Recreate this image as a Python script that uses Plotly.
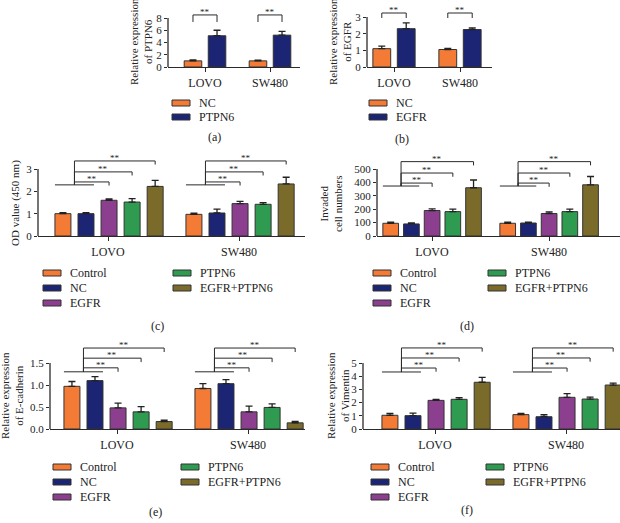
import plotly.graph_objects as go

W, H = 620, 523
FONT = "Liberation Serif"

groups = ["LOVO", "SW480"]

# colours
ORANGE = "#F47B36"
NAVY = "#1B2574"
PURPLE = "#8C3F8E"
GREEN = "#2E9B50"
OLIVE = "#7B6B2B"

# (a) PTPN6 expression
a_names = ["NC", "PTPN6"]
a_vals = [[1.0, 1.0], [5.1, 5.2]]
a_errs = [[0.15, 0.12], [0.9, 0.6]]

# (b) EGFR expression
b_names = ["NC", "EGFR"]
b_vals = [[1.1, 1.05], [2.3, 2.25]]
b_errs = [[0.15, 0.06], [0.35, 0.1]]

# five-group panels
names5 = ["Control", "NC", "EGFR", "PTPN6", "EGFR+PTPN6"]

# (c) OD value
c_vals = [[1.0, 0.97], [1.0, 1.03], [1.6, 1.45], [1.52, 1.42], [2.22, 2.33]]
c_errs = [[0.04, 0.05], [0.04, 0.17], [0.06, 0.1], [0.15, 0.07], [0.27, 0.3]]

# (d) invaded cell numbers
d_vals = [[95, 95], [90, 97], [190, 168], [182, 182], [360, 382]]
d_errs = [[8, 8], [8, 6], [12, 12], [18, 18], [58, 62]]

# (e) E-cadherin
e_vals = [[0.97, 0.92], [1.1, 1.03], [0.48, 0.39], [0.39, 0.49], [0.17, 0.14]]
e_errs = [[0.11, 0.11], [0.09, 0.09], [0.11, 0.13], [0.12, 0.08], [0.03, 0.03]]

# (f) Vimentin
f_vals = [[1.04, 1.09], [1.01, 0.93], [2.17, 2.4], [2.25, 2.27], [3.54, 3.33]]
f_errs = [[0.15, 0.1], [0.2, 0.15], [0.08, 0.28], [0.13, 0.15], [0.37, 0.15]]


def px(x):
    return x / W


def py(y):
    return 1 - y / H


panels = [
    dict(label="(a)", lab_xy=(214, 137), names=a_names, vals=a_vals, errs=a_errs,
         colors=[ORANGE, NAVY], width=0.27, offsets=[-0.32, 0.05],
         xl=168, xr=300, cat0=205, step=65, y0=67, ytick=18, ytop=5, amax=8,
         tickvals=[0, 2, 4, 6, 8], tickformat="d",
         title="Relative expression<br>of PTPN6", title_xy=(141, 42),
         pair=dict(level=8.5, tick=1.15),
         legend=[[(172, 103), (172, 117)]]),
    dict(label="(b)", lab_xy=(402, 139), names=b_names, vals=b_vals, errs=b_errs,
         colors=[ORANGE, NAVY], width=0.27, offsets=[-0.32, 0.05],
         xl=367, xr=492, cat0=394, step=66, y0=67, ytick=17, ytop=5, amax=3,
         tickvals=[0, 1, 2, 3], tickformat="d",
         title="Relative expression<br>of EGFR", title_xy=(340, 42),
         pair=dict(level=3.24, tick=0.3),
         legend=[[(369, 103), (369, 117)]]),
    dict(label="(c)", lab_xy=(157, 326), names=names5, vals=c_vals, errs=c_errs,
         colors=[ORANGE, NAVY, PURPLE, GREEN, OLIVE], width=0.122,
         offsets=[-0.405, -0.229, -0.053, 0.123, 0.299],
         xl=38, xr=305, cat0=108, step=131, y0=236, ytick=169, ytop=155, amax=3,
         tickvals=[0, 1, 2, 3], tickformat="d",
         title="OD value (450 nm)", title_xy=(15, 203),
         multi=dict(low=2.29, levels=[2.42, 2.87, 3.36], tick=0.16),
         legend=[[(43, 273), (43, 288), (43, 303)], [(173, 273), (173, 288)]]),
    dict(label="(d)", lab_xy=(467, 326), names=names5, vals=d_vals, errs=d_errs,
         colors=[ORANGE, NAVY, PURPLE, GREEN, OLIVE], width=0.134,
         offsets=[-0.42, -0.243, -0.066, 0.111, 0.288],
         xl=377, xr=620, cat0=432, step=117, y0=236, ytick=169, ytop=155, amax=500,
         tickvals=[0, 100, 200, 300, 400, 500], tickformat="d",
         title="Invaded<br>cell numbers", title_xy=(331, 203),
         multi=dict(low=373, levels=[395, 470, 555], tick=28),
         legend=[[(373, 273), (373, 288), (373, 303)], [(488, 273), (488, 288)]]),
    dict(label="(e)", lab_xy=(155, 512), names=names5, vals=e_vals, errs=e_errs,
         colors=[ORANGE, NAVY, PURPLE, GREEN, OLIVE], width=0.122,
         offsets=[-0.405, -0.229, -0.053, 0.123, 0.299],
         xl=50, xr=305, cat0=117, step=131, y0=429, ytick=363, ytop=342, amax=1.5,
         tickvals=[0, 0.5, 1.0, 1.5], tickformat=".1f",
         title="Relative expression<br>of E-cadherin", title_xy=(12, 396),
         multi=dict(low=1.30, levels=[1.39, 1.61, 1.84], tick=0.09),
         legend=[[(53, 467), (53, 482), (53, 497)], [(181, 467), (181, 482)]]),
    dict(label="(f)", lab_xy=(467, 510), names=names5, vals=f_vals, errs=f_errs,
         colors=[ORANGE, NAVY, PURPLE, GREEN, OLIVE], width=0.122,
         offsets=[-0.405, -0.229, -0.053, 0.123, 0.299],
         xl=363, xr=620, cat0=435, step=131, y0=429, ytick=363, ytop=342, amax=5,
         tickvals=[0, 1, 2, 3, 4, 5], tickformat="d",
         title="Relative expression<br>of Vimentin", title_xy=(338, 396),
         multi=dict(low=4.32, levels=[4.62, 5.38, 6.14], tick=0.28),
         legend=[[(371, 467), (371, 482), (371, 497)], [(486, 467), (486, 482)]]),
]

fig = go.Figure()
shapes = []
annotations = []
LINE = "#2a2a2a"


def star(xref, yref, x, y):
    annotations.append(dict(xref=xref, yref=yref, x=x, y=y, text="**", showarrow=False,
                            xanchor="center", yanchor="middle", yshift=3,
                            font=dict(family=FONT, size=9, color="#222")))


def seg(xref, yref, x0, y0, x1, y1):
    shapes.append(dict(type="line", xref=xref, yref=yref, x0=x0, y0=y0, x1=x1, y1=y1,
                       line=dict(color=LINE, width=1)))


for i, p in enumerate(panels, start=1):
    xa = "x" if i == 1 else f"x{i}"
    ya = "y" if i == 1 else f"y{i}"
    xkey = "xaxis" if i == 1 else f"xaxis{i}"
    ykey = "yaxis" if i == 1 else f"yaxis{i}"

    for k, name in enumerate(p["names"]):
        fig.add_trace(go.Bar(
            x=groups, y=p["vals"][k], name=name, xaxis=xa, yaxis=ya,
            width=p["width"], offset=p["offsets"][k],
            marker=dict(color=p["colors"][k], line=dict(color="#333", width=1)),
            error_y=dict(type="data", symmetric=False, array=p["errs"][k],
                         arrayminus=[0] * len(groups), color="#222", thickness=1.3, width=3.5),
            showlegend=False))

    rng_top = p["amax"] * (p["y0"] - p["ytop"]) / (p["y0"] - p["ytick"])
    fig.update_layout({
        xkey: dict(domain=[px(p["xl"]), px(p["xr"])],
                   range=[(p["xl"] - p["cat0"]) / p["step"], (p["xr"] - p["cat0"]) / p["step"]],
                   type="category", anchor=ya, showline=True, linecolor=LINE, linewidth=1.3,
                   ticks="outside", ticklen=4, tickcolor=LINE, showgrid=False, zeroline=False,
                   automargin=False,
                   tickfont=dict(family=FONT, size=12, color="#222"), fixedrange=True),
        ykey: dict(domain=[py(p["y0"]), py(p["ytop"])], range=[0, rng_top], anchor=xa,
                   showline=False, showgrid=False, zeroline=False, ticks="outside", ticklen=3,
                   tickcolor=LINE, tickvals=p["tickvals"], tickformat=p["tickformat"],
                   automargin=False,
                   tickfont=dict(family=FONT, size=11, color="#222"), fixedrange=True),
    })
    # y axis line only up to the top tick
    shapes.append(dict(type="line", xref=f"{xa} domain", yref=ya, x0=0, x1=0, y0=0,
                       y1=p["amax"], line=dict(color=LINE, width=1.3)))

    centers = [[g + o + p["width"] / 2 for o in p["offsets"]] for g in range(len(groups))]
    for g in range(len(groups)):
        c = centers[g]
        if "pair" in p:
            lv, t = p["pair"]["level"], p["pair"]["tick"]
            seg(xa, ya, c[0], lv - t, c[0], lv)
            seg(xa, ya, c[0], lv, c[1], lv)
            seg(xa, ya, c[1], lv, c[1], lv - t)
            star(xa, ya, (c[0] + c[1]) / 2, lv)
        else:
            m = p["multi"]
            left = g + p["offsets"][0]
            right = g + p["offsets"][1] + p["width"]
            seg(xa, ya, left, m["low"], right, m["low"])
            mid = (c[0] + c[1]) / 2
            for j, lv in enumerate(m["levels"]):
                tgt = c[2 + j]
                seg(xa, ya, mid, m["low"], mid, lv)
                seg(xa, ya, mid, lv, tgt, lv)
                seg(xa, ya, tgt, lv, tgt, lv - m["tick"])
                star(xa, ya, (mid + tgt) / 2, lv)

    # legend drawn as flat swatches
    k = 0
    for col in p["legend"]:
        for (lx, ly) in col:
            shapes.append(dict(type="rect", xref="paper", yref="paper",
                               x0=px(lx), x1=px(lx + 18), y0=py(ly + 3), y1=py(ly - 3),
                               fillcolor=p["colors"][k], line=dict(color="#333", width=1)))
            annotations.append(dict(xref="paper", yref="paper", x=px(lx + 25), y=py(ly),
                                    text=p["names"][k], showarrow=False, xanchor="left",
                                    yanchor="middle",
                                    font=dict(family=FONT, size=12, color="#222")))
            k += 1

    tx, ty = p["title_xy"]
    annotations.append(dict(xref="paper", yref="paper", x=px(tx), y=py(ty), text=p["title"],
                            textangle=-90, showarrow=False, xanchor="center", yanchor="middle",
                            font=dict(family=FONT, size=11, color="#222")))
    lx, ly = p["lab_xy"]
    annotations.append(dict(xref="paper", yref="paper", x=px(lx), y=py(ly), text=p["label"],
                            showarrow=False, xanchor="center", yanchor="middle",
                            font=dict(family=FONT, size=12, color="#222")))

fig.update_layout(width=W, height=H, margin=dict(l=0, r=0, t=0, b=0, autoexpand=False),
                  paper_bgcolor="white", plot_bgcolor="white", showlegend=False,
                  barmode="overlay", shapes=shapes, annotations=annotations)

fig.write_html("out.html", config={"displayModeBar": False, "staticPlot": True},
               post_script="document.body.style.margin='0';")
